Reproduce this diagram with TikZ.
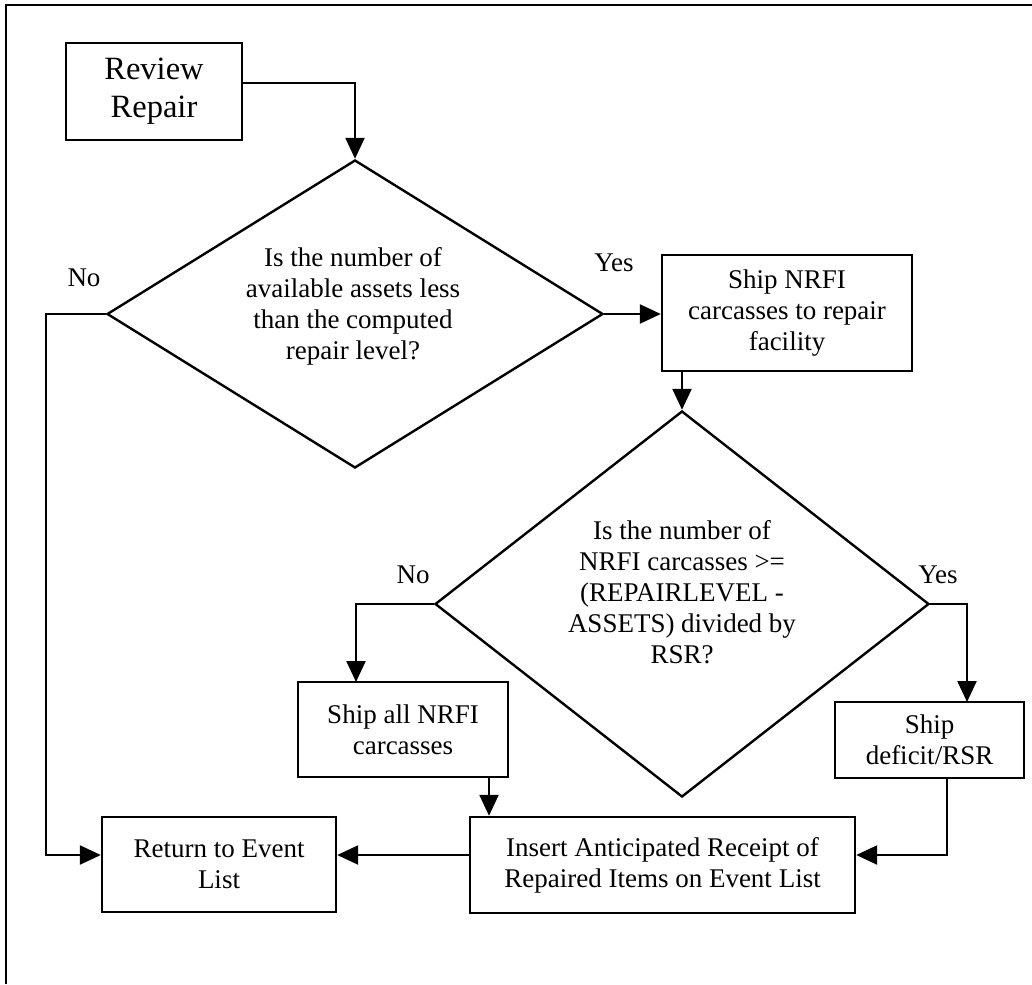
\documentclass[tikz,border=0pt]{standalone}
\usepackage{fontspec}
\setmainfont{Liberation Serif}
\usetikzlibrary{arrows.meta,shapes.geometric}
\begin{document}
\begin{tikzpicture}[x=1pt,y=-1pt,
  every node/.style={font=\fontsize{27}{31}\selectfont},
  box/.style={draw, line width=2.4pt, inner sep=0pt, align=center},
  dia/.style={draw, diamond, line width=2.4pt, inner sep=0pt},
  arr/.style={line width=2.4pt, -{Triangle[length=21pt,width=19pt]}},
  ln/.style={line width=2.6pt}]
\useasboundingbox (0,0) rectangle (1032,984);
% page frame
\draw[ln] (6,984) -- (6,5) -- (1032,5);
% nodes
\node[box, minimum width=176pt, minimum height=97pt, font=\fontsize{32.5}{38}\selectfont] (rr) at (154,91.5) {Review\\Repair};
\node[dia, minimum width=496pt, minimum height=308pt] (d1) at (355,314) {};
\node[align=center] (d1t) at (353,306) {Is the number of\\available assets less\\than the computed\\repair level?};
\node[box, minimum width=250pt, minimum height=116pt] (sn) at (787,313) {Ship NRFI\\carcasses to repair\\facility};
\node[dia, minimum width=494pt, minimum height=386pt] (d2) at (682,604) {};
\node[align=center] (d2t) at (682,592) {Is the number of\\NRFI carcasses >=\\(REPAIRLEVEL -\\ASSETS) divided by\\RSR?};
\node[box, minimum width=210pt, minimum height=95pt] (sa) at (403,729.5) {Ship all NRFI\\carcasses};
\node[box, minimum width=189pt, minimum height=76pt] (def) at (929.5,740) {Ship\\deficit/RSR};
\node[box, minimum width=385pt, minimum height=96pt] (ins) at (662.5,865) {Insert Anticipated Receipt of\\Repaired Items on Event List};
\node[box, minimum width=234pt, minimum height=95pt] (ret) at (219,864.5) {Return to Event\\List};
% labels
\node (no1) at (84,278) {No};
\node (yes1) at (614,263) {Yes};
\node (no2) at (413,575) {No};
\node (yes2) at (938,575) {Yes};
% helper coordinates
\coordinate (lx) at (46,855);
\coordinate (sax) at (356,682);
\coordinate (sab) at (489,777);
\coordinate (dx) at (967,702);
\coordinate (dy) at (947,855);
% connectors
\draw[arr] ([yshift=8.5pt]rr.east) -| (d1.north);
\draw[arr] (d1.east) -- (d1.east -| sn.west);
\draw[arr] (sn.south -| d2.north) -- (d2.north);
\draw[arr] (d1.west) -| (lx) -- (lx -| ret.west);
\draw[arr] (d2.west) -| (sax);
\draw[arr] (sab) -- (sab |- ins.north);
\draw[arr] (d2.east) -| (dx);
\draw[arr] (dy |- def.south) -- (dy) -- (dy -| ins.east);
\draw[arr] (lx -| ins.west) -- (lx -| ret.east);
\end{tikzpicture}
\end{document}
